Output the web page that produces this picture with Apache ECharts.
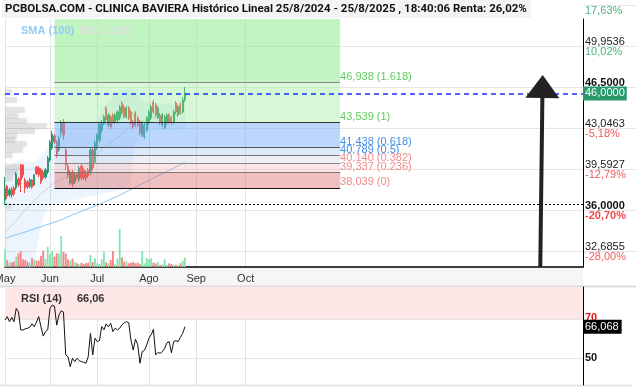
<!DOCTYPE html>
<html><head><meta charset="utf-8">
<script src="https://cdn.jsdelivr.net/npm/echarts@6/dist/echarts.min.js"></script>
<style>html,body{margin:0;padding:0;background:#fff}#c{width:636px;height:390px}</style>
</head><body><div id="c"></div>
<script>
// ---------- DATA ----------
const startDate = '2025-05-05';
const nDays = 258;
const opens = [37.02,38.20,37.45,37.95,38.04,38.04,38.79,39.97,39.97,38.71,
38.54,38.20,38.71,38.29,39.80,39.72,39.55,39.38,38.96,39.38,
40.39,41.40,42.42,41.91,41.24,42.75,43.59,41.24,39.89,38.46,
39.38,38.54,39.21,38.71,39.89,39.55,39.38,39.55,39.38,41.24,
40.23,41.49,42.08,42.92,43.43,44.77,43.34,44.02,44.18,43.59,
43.76,43.93,45.19,44.86,44.02,44.77,44.44,43.59,44.35,43.93,
43.59,42.50,42.33,42.92,43.51,43.93,45.28,45.03,43.93,44.18,
43.34,43.09,43.51,44.18,43.93,43.59,45.19,44.18,45.03,44.44,45.45];
const closes = [38.04,37.36,37.87,37.45,37.53,39.21,38.29,38.71,39.13,38.04,
38.12,38.71,38.12,39.13,39.21,39.13,38.54,38.88,39.55,40.56,
41.91,42.58,41.91,40.81,42.25,43.51,42.50,39.97,39.13,39.38,
38.37,39.13,38.88,39.72,38.88,38.88,38.88,39.05,41.24,39.72,
41.83,42.50,43.43,43.59,44.02,43.76,44.18,43.17,43.59,44.18,
44.44,44.86,44.35,44.02,44.77,43.93,43.51,43.17,43.34,43.34,
42.67,43.51,43.34,43.93,44.44,44.86,44.44,44.18,44.77,43.51,
44.18,44.02,44.18,43.59,43.51,44.44,44.44,44.86,44.35,45.45,46.00];
const highs = [38.96,38.29,38.04,38.12,38.20,39.38,38.96,40.06,40.06,38.88,
38.71,38.88,38.79,39.21,39.89,39.89,39.72,39.55,39.72,40.73,
42.08,42.84,42.58,42.08,42.42,43.76,43.85,41.40,40.14,39.55,
39.55,39.38,39.38,39.89,40.06,39.72,39.55,39.72,41.40,41.49,
42.08,42.67,43.59,43.76,44.18,44.94,44.35,44.18,44.35,44.35,
44.61,45.03,45.36,45.03,44.94,44.94,44.61,43.76,44.52,44.10,
43.76,43.68,43.51,44.10,44.61,45.03,45.45,45.19,44.94,44.35,
44.35,44.18,44.35,44.35,44.10,44.61,45.36,45.03,45.19,45.70,46.54];
const lows = [36.60,37.11,37.28,37.19,37.36,37.87,38.12,37.70,38.88,37.61,
37.95,38.04,37.95,38.20,39.13,38.96,38.37,38.71,38.79,39.21,
40.23,41.24,41.74,40.56,41.07,42.33,42.08,39.55,38.88,38.29,
38.12,38.37,38.71,38.54,38.71,38.71,38.62,38.88,39.13,39.55,
40.06,41.24,41.83,42.67,43.34,43.59,43.17,43.00,43.43,43.43,
43.59,43.76,44.18,43.85,43.85,43.76,43.34,43.00,43.17,43.17,
42.50,42.33,42.16,42.75,43.34,43.76,44.27,44.02,43.85,43.34,
43.17,43.00,43.34,43.43,43.34,43.43,44.27,44.02,44.18,44.35,45.28];
const volumes = [11400,4500,2800,3000,3400,6700,8800,10300,5000,4500,
3400,2800,5600,4500,4100,4100,7100,10500,5200,13100,
8200,10300,6700,8800,8800,20000,9700,8800,5000,4100,
5400,3200,2400,1700,2800,1900,2400,2800,7700,3200,
5600,2400,1900,5000,9900,3000,2400,4500,10300,1700,
5600,24500,6200,3400,3700,2400,2800,3400,2400,2800,
1700,10300,2400,5800,5000,5600,2800,2400,3000,1300,
1700,5000,1300,2400,1900,1300,1300,900,2400,4100,6200];
const rsi = [69.5,71.2,68.6,70.8,68.6,75.4,73.7,64.4,64.4,65.0,
65.3,65.8,67.6,66.1,68.5,71.2,66.0,61.3,63.6,64.5,
75.4,77.1,76.5,66.9,72.0,74.2,73.5,51.7,50.8,45.7,
50.0,48.3,50.0,48.8,48.3,48.0,47.5,50.8,62.7,51.7,
60.2,58.5,59.0,66.1,64.5,67.5,66.0,67.8,63.6,65.3,
64.5,65.3,67.0,68.1,68.6,68.1,59.3,54.2,59.7,57.0,
47.5,53.4,54.0,56.8,60.2,62.0,64.7,51.7,53.0,52.5,
53.4,55.1,57.9,58.5,52.8,58.5,59.0,58.5,60.7,62.7,66.07];
const sma100 = [33.80,33.86,33.92,33.97,34.04,34.10,34.15,34.22,34.28,34.33,
34.40,34.46,34.53,34.58,34.66,34.72,34.77,34.84,34.91,34.96,
35.03,35.09,35.16,35.21,35.29,35.35,35.44,35.51,35.61,35.68,
35.78,35.85,35.93,36.00,36.08,36.16,36.22,36.30,36.38,36.44,
36.52,36.60,36.68,36.75,36.84,36.92,37.01,37.08,37.18,37.25,
37.35,37.44,37.54,37.62,37.73,37.82,37.92,38.00,38.11,38.19,
38.30,38.40,38.49,38.58,38.68,38.78,38.87,38.96,39.06,39.15,
39.25,39.35,39.44,39.53,39.63,39.72,39.82,39.90,40.01,40.09,40.20];
const bollUpper = [39.80,39.90,40.00,40.10,40.15,40.25,40.30,40.35,40.30,40.25,
40.22,40.20,40.22,40.25,40.35,40.50,40.70,40.90,41.15,41.45,
41.85,42.25,42.55,42.85,43.10,43.40,43.60,43.70,43.72,43.70,
43.68,43.65,43.62,43.60,43.58,43.55,43.55,43.56,43.58,43.60,
43.65,43.80,44.10,44.45,44.80,45.10,45.35,45.55,45.75,45.90,
46.05,46.20,46.30,46.38,46.43,46.45,46.42,46.36,46.25,46.05,
45.75,45.50,45.35,45.25,45.20,45.18,45.18,45.20,45.20,45.18,
45.17,45.16,45.15,45.15,45.16,45.18,45.22,45.28,45.36,45.48,45.65];
const bollMid = [34.30,34.50,34.70,34.90,35.10,35.30,35.50,35.75,35.95,36.15,
36.35,36.55,36.75,36.95,37.15,37.35,37.55,37.70,37.85,38.00,
38.20,38.35,38.50,38.60,38.70,38.80,38.88,38.90,38.95,39.05,
39.15,39.25,39.35,39.50,39.65,39.80,39.95,40.10,40.30,40.50,
40.70,40.90,41.10,41.30,41.45,41.60,41.70,41.85,42.00,42.15,
42.30,42.45,42.60,42.75,42.90,43.05,43.20,43.35,43.50,43.60,
43.65,43.70,43.75,43.80,43.85,43.90,43.92,43.95,43.98,44.00,
44.02,44.05,44.08,44.10,44.12,44.15,44.20,44.25,44.30,44.38,44.45];
const bollLower = [28.00,28.10,28.20,28.40,28.60,28.80,29.00,29.20,29.50,29.80,
30.10,30.50,31.00,31.60,32.70,33.80,34.90,35.60,36.00,36.30,
36.55,36.60,36.65,36.70,36.72,36.78,36.80,36.85,36.90,36.95,
37.00,37.05,37.08,37.12,37.15,37.20,37.25,37.30,37.32,37.36,
37.40,37.45,37.48,37.52,37.55,37.60,37.65,37.68,37.72,37.76,
37.80,37.85,37.88,37.92,37.96,38.00,38.20,40.80,41.60,42.10,
42.40,42.55,42.65,42.72,42.78,42.82,42.85,42.87,42.88,42.90,
42.90,42.90,42.91,42.92,42.92,42.93,42.93,42.94,42.94,42.95,42.95];
const fibLevels = [52.438, 46.938, 43.539, 41.438, 40.789, 40.140, 39.337, 38.039];
const fibRatios = ['2.618','1.618','1','0.618','0.5','0.382','0.236','0'];
const fibStartDate = '2025-06-04';
const fibEndDate = '2025-11-28';
const priceTicks = [32.6855, 36.1391, 39.5927, 43.0463, 46.4999, 49.9536, 53.4072];
const priceTickLabels = ['32,6855','36,0000','39,5927','43,0463','46,5000','49,9536',''];
const pctTickLabels = ['-28,00%','-20,70%','-12,79%','-5,18%','','10,02%','17,63%'];
const lastPrice = 46.0;
const supportLevel = 36.64;
const rsiTicks = [50, 70];
const rsiLast = 66.068;
const rsiShown = '66,06';
const arrowFromIndex = 238, arrowToIndex = 239;
const arrowFromPrice = 31.38, arrowToPrice = 46.58;
const profilePrices = [46.12,45.45,44.61,44.10,43.68,43.26,42.84,42.42,42.08,41.74,41.24,40.81,39.80,39.38,38.88,36.52];
const profileVolumes = [12,20,33,22,37,70,50,20,17,37,30,12,25,22,13,12];
const monthNames = {'05':'May','06':'Jun','07':'Jul','08':'Ago','09':'Sep','10':'Oct'};
const titleText = 'PCBOLSA.COM - CLINICA BAVIERA Histórico Lineal 25/8/2024 - 25/8/2025 , 18:40:06 Renta: 26,02%';

// ---------- BUILD ----------
function tradingDays(start, n){
  const out=[]; const d=new Date(start+'T00:00:00Z');
  while(out.length<n){ const w=d.getUTCDay(); if(w!==0&&w!==6) out.push(d.toISOString().slice(0,10)); d.setUTCDate(d.getUTCDate()+1); }
  return out;
}
const cats = tradingDays(startDate, nDays);
function isMonthMark(i){
  const m = cats[i].slice(5,7);
  if(!monthNames[m]) return false;
  return i===0 || cats[i-1].slice(5,7)!==m;
}
const FONT = 'Liberation Sans, Arial, sans-serif';
const UP = '#2a9d6e', DOWN = '#f24f4f';
const candleData = opens.map((o,i)=>[o, closes[i], lows[i], highs[i]]);
const volData = volumes.map((v,i)=>({value:v, itemStyle:{color: closes[i]>=opens[i] ? '#86e2ad' : '#f58282'}}));
const bandWidth = bollUpper.map((u,i)=>+(u-bollLower[i]).toFixed(3));
const fmt = v => v.toFixed(4).replace('.', ',');
const fibZoneColors = ['rgba(140,235,140,0.55)','rgba(140,235,140,0.36)','rgba(120,175,250,0.5)','rgba(140,185,245,0.3)','rgba(205,210,228,0.35)','rgba(245,170,170,0.3)','rgba(222,115,115,0.45)'];
const fibLineColors = ['#888','#888','#333','#555','#777','#888','#777','#111'];
const fibLabelColors = ['#5ccf5c','#5ccf5c','#5ccf5c','#3d8ee6','#3d8ee6','#f08a8a','#f08a8a','#f08a8a'];
const boldTick = [false,true,false,false,true,false,false];

const fibAreas = [];
for(let k=0;k<fibLevels.length-1;k++){
  fibAreas.push([{coord:[fibStartDate, fibLevels[k]], itemStyle:{color:fibZoneColors[k]}},{coord:[fibEndDate, fibLevels[k+1]]}]);
}
const fibLines = [];
for(let k=1;k<fibLevels.length;k++){
  fibLines.push([{coord:[fibStartDate, fibLevels[k]], lineStyle:{color:fibLineColors[k]},
     label:{show:true, formatter: fibLevels[k].toFixed(3).replace('.',',')+' ('+fibRatios[k]+')', color:fibLabelColors[k]}},
    {coord:[fibEndDate, fibLevels[k]]}]);
}
const G = {outerBoundsMode:'none', containLabel:false};

const option = {
  animation:false,
  backgroundColor:'#fff',
  textStyle:{fontFamily:FONT},
  title:[
    {text:titleText, left:2, top:0, padding:[3,4,3,3], backgroundColor:'#f4f4f4',
     textStyle:{fontFamily:'Roboto, Liberation Sans, Arial, sans-serif', fontSize:11.5, fontWeight:'bold', color:'#111'}},
    {text:'{a|SMA (100)} {b|BOLL (20)}', left:21, top:22, padding:0,
     textStyle:{rich:{a:{fontFamily:FONT,fontSize:11,fontWeight:'bold',color:'#93ccf5'}, b:{fontFamily:FONT,fontSize:11,fontWeight:'bold',color:'#dedede'}}}},
    {text:'{a|RSI (14)}   {a|'+rsiShown+'}', left:21, top:290, padding:0,
     textStyle:{rich:{a:{fontFamily:FONT,fontSize:11,fontWeight:'bold',color:'#333'}}}}
  ],
  graphic:[
    {type:'rect', z:-1, shape:{x:0,y:267,width:583,height:19}, style:{fill:'#f6f6f6'}},
    {type:'line', z:-1, shape:{x1:0,y1:286.5,x2:636,y2:286.5}, style:{stroke:'#dcdcdc', lineWidth:2}},
    {type:'line', z:-1, shape:{x1:0,y1:385.5,x2:632,y2:385.5}, style:{stroke:'#e0e0e0', lineWidth:1.5}}
  ],
  grid:[
    Object.assign({left:5, right:53, top:19, height:248}, G),
    Object.assign({left:5, right:53, top:287, height:98}, G),
    Object.assign({left:583, right:0, top:0, height:267}, G),
    Object.assign({left:5, width:60, top:19, height:248}, G)
  ],
  xAxis:[
    {type:'category', gridIndex:0, data:cats, boundaryGap:false,
     axisLine:{lineStyle:{color:'#000', width:1.5}}, axisTick:{show:false},
     axisLabel:{interval:(i)=>isMonthMark(i), formatter:(v)=>monthNames[v.slice(5,7)]||'', color:'#333', fontSize:11, margin:6, fontFamily:FONT},
     splitLine:{show:true, interval:(i)=>isMonthMark(i), lineStyle:{color:'#e3e3e3'}}},
    {type:'category', gridIndex:1, data:cats, boundaryGap:false,
     axisLine:{show:false}, axisTick:{show:false}, axisLabel:{show:false},
     splitLine:{show:true, interval:(i)=>isMonthMark(i), lineStyle:{color:'#e3e3e3'}}},
    {type:'value', gridIndex:2, show:false, min:0, max:1},
    {type:'value', gridIndex:3, show:false, min:0, max:100}
  ],
  yAxis:[
    {type:'value', gridIndex:0, position:'right', min:31.38, max:52.27,
     axisLine:{show:true, lineStyle:{color:'#000'}}, axisTick:{show:false, customValues:priceTicks},
     axisLabel:{show:false, customValues:priceTicks},
     splitLine:{show:true, lineStyle:{color:'#e6e6e6'}}},
    {type:'value', gridIndex:0, show:false, min:0, max:160000},
    {type:'value', gridIndex:1, position:'right', min:36.4, max:86.3,
     axisLine:{show:true, lineStyle:{color:'#000'}}, axisTick:{show:false, customValues:rsiTicks},
     axisLabel:{customValues:rsiTicks, margin:2, formatter:(v)=> v===70 ? '{r|70}' : '{b|50}',
       rich:{r:{color:'#ee1111', fontWeight:'bold', fontSize:11, fontFamily:FONT, padding:[0,0,3,0]}, b:{color:'#111', fontWeight:'bold', fontSize:11, fontFamily:FONT}}},
     splitLine:{show:true, lineStyle:{color:'#e6e6e6'}}},
    {type:'value', gridIndex:2, position:'left', min:31.38, max:53.87,
     axisLine:{show:false}, axisTick:{show:false, customValues:priceTicks},
     axisLabel:{inside:true, margin:2, customValues:priceTicks,
       formatter:(v)=>{
         const k = priceTicks.findIndex(t=>Math.abs(t-v)<1e-3); if(k<0) return '';
         const p = priceTickLabels[k], q = pctTickLabels[k];
         const ps = p ? (boldTick[k] ? '{pb|'+p+'}' : '{p|'+p+'}') : '{e| }';
         const qs = q ? ((q[0]==='-' ? (boldTick[k]?'{rb|':'{r|') : '{g|') + q + '}') : '{e| }';
         return ps+'\n'+qs;
       },
       rich:{
         p:{fontSize:11, lineHeight:10, color:'#222', fontFamily:FONT},
         pb:{fontSize:11, lineHeight:10, color:'#111', fontWeight:'bold', fontFamily:FONT},
         g:{fontSize:11, lineHeight:10, color:'#4db37e', fontFamily:FONT},
         r:{fontSize:11, lineHeight:10, color:'#f25a5a', fontFamily:FONT},
         rb:{fontSize:11, lineHeight:10, color:'#f24a4a', fontWeight:'bold', fontFamily:FONT},
         e:{fontSize:11, lineHeight:10}
       }},
     splitLine:{show:true, lineStyle:{color:'#e6e6e6'}}},
    {type:'value', gridIndex:3, show:false, min:31.38, max:52.27}
  ],
  series:[
    {name:'bollLower', type:'line', xAxisIndex:0, yAxisIndex:0, data:bollLower, stack:'boll', symbol:'none', lineStyle:{opacity:0}, z:1, silent:true},
    {name:'bollBand', type:'line', xAxisIndex:0, yAxisIndex:0, data:bandWidth, stack:'boll', symbol:'none', lineStyle:{opacity:0}, areaStyle:{color:'rgba(140,195,245,0.24)'}, z:1, silent:true},
    {name:'bollMid', type:'line', xAxisIndex:0, yAxisIndex:0, data:bollMid, symbol:'none', lineStyle:{color:'#dcc8c8', width:1}, z:2, silent:true},
    {name:'sma100', type:'line', xAxisIndex:0, yAxisIndex:0, data:sma100, symbol:'none', lineStyle:{color:'#86c3f2', width:1}, z:2, silent:true},
    {name:'volume', type:'bar', xAxisIndex:0, yAxisIndex:1, data:volData, barWidth:1.8, z:1, silent:true},
    {name:'candles', type:'candlestick', xAxisIndex:0, yAxisIndex:0, data:candleData, barWidth:1.6, z:2,
     itemStyle:{color:UP, color0:DOWN, borderColor:UP, borderColor0:DOWN, borderWidth:1}},
    {name:'fib', type:'line', xAxisIndex:0, yAxisIndex:0, data:[], z:5, silent:true,
     markArea:{silent:true, z:3, data:fibAreas},
     markLine:{silent:true, z:5, symbol:'none', lineStyle:{width:1, type:'solid'},
       label:{position:'end', distance:0, align:'left', verticalAlign:'bottom', fontSize:11, fontFamily:FONT},
       data:fibLines}},
    {name:'levels', type:'line', xAxisIndex:0, yAxisIndex:0, data:[], z:6, silent:true,
     markLine:{silent:true, z:6, symbol:'none', precision:4,
       data:[
         {yAxis:lastPrice, lineStyle:{color:'#1530ff', width:1.5, type:[5,4]},
          label:{show:true, position:'end', distance:0, formatter:(p)=>fmt(p.value), color:'#fff', backgroundColor:'#2a9a6a', padding:[2,2,1,2], fontSize:11, fontFamily:FONT}},
         {yAxis:supportLevel, lineStyle:{color:'#000', width:1, type:[2,2]}, label:{show:false}},
         [{coord:[cats[arrowFromIndex], arrowFromPrice], symbol:'none', lineStyle:{color:'#222', width:4, type:'solid'}, label:{show:false}},
          {coord:[cats[arrowToIndex], arrowToPrice], symbol:'triangle', symbolSize:[34,23], itemStyle:{color:'#111'}}]
       ]}},
    {name:'rsi', type:'line', xAxisIndex:1, yAxisIndex:2, data:rsi, symbol:'none', lineStyle:{color:'#111', width:1}, z:3,
     markArea:{silent:true, z:1, itemStyle:{color:'#fde7e7'}, data:[[{yAxis:70},{yAxis:86.3}]]}},
    {name:'rsiLabel', type:'line', xAxisIndex:1, yAxisIndex:2, data:[], z:6, silent:true,
     markLine:{silent:true, z:6, symbol:'none', precision:3,
       data:[{yAxis:rsiLast, lineStyle:{color:'rgba(0,0,0,0)', width:0},
         label:{show:true, position:'end', distance:0, formatter:(p)=>p.value.toFixed(3).replace('.',','), color:'#fff', backgroundColor:'#000', padding:[2,3,1,2], fontSize:11, fontFamily:FONT}}]}},
    {name:'profile', type:'custom', xAxisIndex:3, yAxisIndex:4, silent:true, z:1,
     data:profilePrices.map((p,i)=>[profileVolumes[i], p]),
     renderItem:(params, api)=>{
       const a = api.coord([0, api.value(1)]); const b = api.coord([api.value(0), api.value(1)]);
       return {type:'rect', shape:{x:a[0], y:a[1]-3, width:b[0]-a[0], height:6},
         style:{fill:'rgba(175,175,175,0.28)', shadowBlur:4, shadowColor:'rgba(175,175,175,0.4)'}};
     }},
    {name:'labelsDummy', type:'line', xAxisIndex:2, yAxisIndex:3, data:[], silent:true}
  ]
};
const chart = echarts.init(document.getElementById('c'));
chart.setOption(option);
</script></body></html>
